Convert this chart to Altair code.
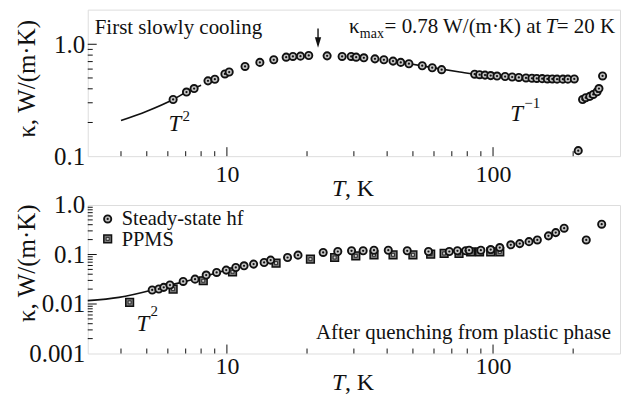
import altair as alt
import pandas as pd

FONT = "Liberation Serif"
INK = "#111111"

# ---------------- data ----------------
# top panel: first slowly cooling (steady-state heat flow)
top_T = [6.28, 7.05, 7.53, 8.49, 9.01, 9.83, 10.2, 11.7, 13.3, 15.0, 16.7, 17.7, 18.9, 20.3,
         23.8, 27.1, 29.3, 30.6, 32.7, 36.0, 38.9, 42.1, 45.0, 48.3, 54.2, 59.1, 64.1,
         85.3, 89, 93.3, 98, 103.5, 111, 118, 125, 133, 140, 146, 153, 160, 167, 174, 183, 191, 202,
         209, 217, 223, 231, 238, 246, 250, 258]
top_k = [0.321, 0.374, 0.402, 0.471, 0.487, 0.543, 0.565, 0.634, 0.689, 0.727, 0.767, 0.778, 0.783, 0.794,
         0.788, 0.778, 0.778, 0.767, 0.757, 0.741, 0.727, 0.707, 0.689, 0.670, 0.643, 0.617, 0.593,
         0.54, 0.535, 0.53, 0.525, 0.52, 0.515, 0.51, 0.505, 0.50, 0.497, 0.495, 0.493, 0.49, 0.49, 0.488, 0.488, 0.488, 0.49,
         0.112, 0.321, 0.333, 0.342, 0.356, 0.376, 0.402, 0.521]
fit_low_T = [4, 5, 6.28, 7.05, 8.0]
fit_low_k = [0.208, 0.252, 0.321, 0.374, 0.43]
fit_high_T = [45, 60, 75, 90, 110, 140, 170, 200]
fit_high_k = [0.69, 0.615, 0.565, 0.53, 0.505, 0.485, 0.478, 0.475]

# bottom panel: after quenching from plastic phase
hf_T = [5.24, 5.55, 5.79, 6.11, 6.85, 7.59, 8.36, 9.15, 9.94, 10.8, 11.6, 12.6, 13.8, 14.6, 16.9, 18.5,
        23.0, 26.1, 29.4, 32.5, 35.7, 40.4, 47.6, 57.2, 68.5, 73.5, 78.9, 81.3, 90, 98, 106,
        116.6, 126, 136.5, 146.7, 161.5, 172, 185, 224, 256]
hf_k = [0.0192, 0.0201, 0.0217, 0.0242, 0.0286, 0.0318, 0.0384, 0.0434, 0.0484, 0.0547, 0.0592, 0.064, 0.069, 0.0771, 0.087, 0.0971,
        0.110, 0.115, 0.119, 0.119, 0.122, 0.122, 0.119, 0.115, 0.115, 0.119, 0.119, 0.122, 0.122, 0.126, 0.138,
        0.157, 0.166, 0.182, 0.197, 0.238, 0.277, 0.340, 0.197, 0.409]
ppms_T = [4.31, 6.28, 8.15, 10.5, 15.3, 20.6, 25.4, 30.5, 35.7, 42.1, 50.0, 58.3, 65.5, 74.5, 82.4, 89, 98, 106]
ppms_k = [0.0108, 0.020, 0.0295, 0.0448, 0.067, 0.0806, 0.087, 0.094, 0.0985, 0.0985, 0.0985, 0.102, 0.105, 0.105,
          0.113, 0.113, 0.113, 0.113]
fit_bot_T = [3, 3.93, 5.24, 6.1, 7.6, 9.9]
fit_bot_k = [0.0117, 0.0136, 0.0192, 0.024, 0.032, 0.048]

# axis ticks
x_major = [10, 100]
x_minor = [4, 5, 6, 7, 8, 9, 20, 30, 40, 50, 60, 70, 80, 90, 200]
top_y_major = [1.0]
top_y_minor = [0.2, 0.3, 0.4, 0.5, 0.6, 0.7, 0.8, 0.9]
bot_y_major = [0.01, 0.1]
bot_y_minor = [0.002, 0.003, 0.004, 0.005, 0.006, 0.007, 0.008, 0.009,
               0.02, 0.03, 0.04, 0.05, 0.06, 0.07, 0.08, 0.09,
               0.2, 0.3, 0.4, 0.5, 0.6, 0.7, 0.8, 0.9]
arrow_T = [22.0]

W = 534
H1 = 147
H2 = 149

xscale = alt.Scale(type="log", domain=[3, 300], nice=False)


def xaxis(pad):
    return alt.Axis(values=x_major, format="d", title=None, grid=False, domain=False, ticks=False,
                    tickSize=0, labelFont=FONT, labelFontSize=24, labelColor=INK,
                    labelBaseline="alphabetic", labelPadding=pad, labelFlush=False)


def yaxis(vals, expr, ty):
    return alt.Axis(values=vals, labelExpr=expr, title="κ, W/(m·K)", grid=False, domain=False,
                    ticks=False, tickSize=0, labelFont=FONT, labelFontSize=25, labelColor=INK,
                    labelPadding=3, labelFlush=False, labelBaseline="middle",
                    titleFont=FONT, titleFontSize=25, titleFontWeight="normal", titleColor=INK,
                    titleAngle=270, titleBaseline="middle", titleAlign="center",
                    titleX=-61, titleY=ty)


def txt(s, x, y, size=21, align="left", style="normal", baseline="alphabetic"):
    return alt.Chart(pd.DataFrame({"t": [s]})).mark_text(
        font=FONT, fontSize=size, fontStyle=style, align=align, baseline=baseline, color=INK
    ).encode(text="t:N", x=alt.value(x), y=alt.value(y))


def circles(df, X, Y):
    outer = alt.Chart(df).mark_point(shape="circle", filled=True, size=52, fill="#c4c4c4",
                                     stroke=INK, strokeWidth=1.9, opacity=1).encode(x=X("T"), y=Y("k"))
    dot = alt.Chart(df).mark_point(shape="circle", filled=True, size=5, color=INK, opacity=1).encode(
        x=X("T"), y=Y("k"))
    return [outer, dot]


def squares(df, X, Y):
    outer = alt.Chart(df).mark_point(shape="square", filled=True, size=60, fill="#7a7a7a",
                                     stroke=INK, strokeWidth=1.5, opacity=1).encode(x=X("T"), y=Y("k"))
    inner = alt.Chart(df).mark_point(shape="square", filled=True, size=9, fill="#d0d0d0",
                                     stroke=INK, strokeWidth=0.8, opacity=1).encode(x=X("T"), y=Y("k"))
    return [outer, inner]


def tick_layers(X, Y, H, xmaj, xmin, ymaj, ymin):
    out = []
    out.append(alt.Chart(pd.DataFrame({"T": xmin})).mark_rule(color=INK, strokeWidth=1).encode(
        x=X("T"), y=alt.value(H), y2=alt.value(H - 5)))
    out.append(alt.Chart(pd.DataFrame({"T": xmaj})).mark_rule(color=INK, strokeWidth=1).encode(
        x=X("T"), y=alt.value(H), y2=alt.value(H - 9)))
    out.append(alt.Chart(pd.DataFrame({"k": ymin})).mark_rule(color=INK, strokeWidth=1).encode(
        y=Y("k"), x=alt.value(0), x2=alt.value(5)))
    out.append(alt.Chart(pd.DataFrame({"k": ymaj})).mark_rule(color=INK, strokeWidth=1).encode(
        y=Y("k"), x=alt.value(0), x2=alt.value(9)))
    return out


# ---------------- top panel ----------------
ys_top = alt.Scale(type="log", domain=[0.1, 2.04], nice=False)
ya_top = yaxis([0.1, 1.0], "datum.value >= 0.5 ? '1.0' : '0.1'", 69)
Xt = lambda f: alt.X(f, type="quantitative", scale=xscale, axis=xaxis(25))
Yt = lambda f: alt.Y(f, type="quantitative", scale=ys_top, axis=ya_top)

top_df = pd.DataFrame({"T": top_T, "k": top_k})
low_df = pd.DataFrame({"T": fit_low_T, "k": fit_low_k})
high_df = pd.DataFrame({"T": fit_high_T, "k": fit_high_k})

top_layers = [
    alt.Chart(low_df).mark_line(color=INK, strokeWidth=1.6, interpolate="monotone").encode(x=Xt("T"), y=Yt("k")),
    alt.Chart(high_df).mark_line(color=INK, strokeWidth=1.6, interpolate="monotone").encode(x=Xt("T"), y=Yt("k")),
]
top_layers += circles(top_df, Xt, Yt)
top_layers += tick_layers(Xt, Yt, H1, x_major, x_minor, top_y_major, top_y_minor)
# arrow at kappa max
arrow_df = pd.DataFrame({"T": arrow_T})
top_layers.append(alt.Chart(arrow_df).mark_rule(color=INK, strokeWidth=1.4).encode(
    x=Xt("T"), y=alt.value(19), y2=alt.value(32)))
top_layers.append(alt.Chart(arrow_df).mark_point(shape="M-0.6,-1L0.6,-1L0,1Z", filled=True, size=110,
                                                 color=INK, opacity=1).encode(x=Xt("T"), y=alt.value(33)))
top_layers += [
    txt("First slowly cooling", 7, 24),
    txt("κ", 262, 23),
    txt("max", 273, 28, size=14),
    txt("= 0.78 W/(m·K) at", 455, 23, align="right"),
    txt("T", 471, 23, style="italic", align="right"),
    txt("= 20 K", 529, 23, align="right"),
    txt("T", 81, 122, size=23, style="italic"),
    txt("2", 95, 112, size=15),
    txt("T", 424, 112, size=23, style="italic"),
    txt("−1", 438, 99, size=15),
    txt("T", 245, 187, size=24, style="italic"),
    txt(", K", 258, 187, size=24),
]
top = alt.layer(*top_layers).properties(width=W, height=H1)

# ---------------- bottom panel ----------------
ys_bot = alt.Scale(type="log", domain=[0.001, 1.0], nice=False)
ya_bot = yaxis([0.001, 0.01, 0.1, 1.0],
               "datum.value >= 0.5 ? '1.0' : datum.value >= 0.05 ? '0.1' : datum.value >= 0.005 ? '0.01' : '0.001'",
               58)
Xb = lambda f: alt.X(f, type="quantitative", scale=xscale, axis=xaxis(20))
Yb = lambda f: alt.Y(f, type="quantitative", scale=ys_bot, axis=ya_bot)

hf_df = pd.DataFrame({"T": hf_T, "k": hf_k})
pp_df = pd.DataFrame({"T": ppms_T, "k": ppms_k})
fb_df = pd.DataFrame({"T": fit_bot_T, "k": fit_bot_k})

bot_layers = [
    alt.Chart(fb_df).mark_line(color=INK, strokeWidth=1.6, interpolate="monotone").encode(x=Xb("T"), y=Yb("k")),
]
bot_layers += squares(pp_df, Xb, Yb)
bot_layers += circles(hf_df, Xb, Yb)
bot_layers += tick_layers(Xb, Yb, H2, x_major, x_minor, bot_y_major, bot_y_minor)

# legend
leg_c = pd.DataFrame({"s": ["Steady-state hf"]})
leg_s = pd.DataFrame({"s": ["PPMS"]})
bot_layers += [
    alt.Chart(leg_c).mark_point(shape="circle", filled=True, size=52, fill="#c4c4c4", stroke=INK,
                                strokeWidth=1.9, opacity=1).encode(x=alt.value(20), y=alt.value(14)),
    alt.Chart(leg_c).mark_point(shape="circle", filled=True, size=5, color=INK, opacity=1).encode(
        x=alt.value(20), y=alt.value(14)),
    alt.Chart(leg_s).mark_point(shape="square", filled=True, size=60, fill="#7a7a7a", stroke=INK,
                                strokeWidth=1.5, opacity=1).encode(x=alt.value(20), y=alt.value(34)),
    alt.Chart(leg_s).mark_point(shape="square", filled=True, size=9, fill="#d0d0d0", stroke=INK,
                                strokeWidth=0.8, opacity=1).encode(x=alt.value(20), y=alt.value(34)),
    txt("Steady-state hf", 34, 20, size=20.5),
    txt("PPMS", 34, 41, size=20.5),
    txt("T", 49, 126, size=23, style="italic"),
    txt("2", 63, 111, size=15),
    txt("After quenching from plastic phase", 525, 134, align="right"),
    txt("T", 245, 186, size=24, style="italic"),
    txt(", K", 258, 186, size=24),
]
bottom = alt.layer(*bot_layers).properties(width=W, height=H2)

chart = alt.vconcat(top, bottom, spacing=49, bounds="flush").properties(
    padding={"left": 6, "top": 0, "right": 5, "bottom": 5}
).configure_view(stroke="#333333", strokeWidth=1.3).configure(background="white")

chart.save("out.html", embed_options={"renderer": "svg", "actions": False})
